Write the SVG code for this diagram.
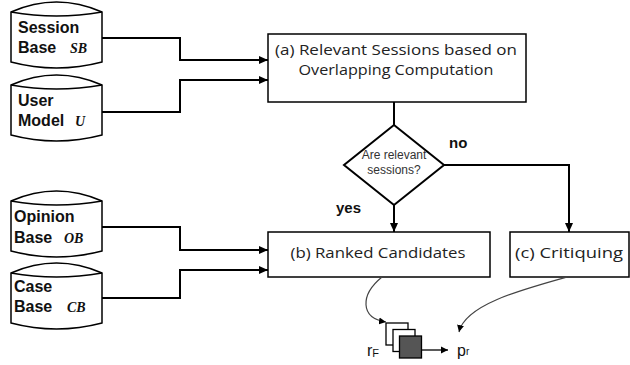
<svg xmlns="http://www.w3.org/2000/svg" width="630" height="365" viewBox="0 0 630 365">
  <style>
    .store path { fill: #fff; stroke: #000; stroke-width: 1.5; }
    .store .lbl { font-family: "Liberation Sans", Arial, sans-serif; font-weight: bold; font-size: 16px; fill: #111; }
    .store .sym { font-family: "Liberation Serif", serif; font-style: italic; font-weight: bold; font-size: 14px; fill: #111; }
    .box rect { fill: #fff; stroke: #000; stroke-width: 1.5; }
    .box text { font-family: "Open Sans", sans-serif; font-size: 15px; fill: #222; }
    .wire { fill: none; stroke: #000; stroke-width: 2; }
    .soft { fill: none; stroke: #444; stroke-width: 1.2; }
    .tag { font-family: "Liberation Sans", Arial, sans-serif; font-weight: bold; font-size: 15px; fill: #111; }
    .q { font-family: "Liberation Sans", Arial, sans-serif; font-size: 12px; fill: #333; }
    .sig { font-family: "Liberation Sans", Arial, sans-serif; fill: #111; }
  </style>
  <defs>
    <marker id="head" markerWidth="10" markerHeight="10" refX="9" refY="5" orient="auto" markerUnits="userSpaceOnUse">
      <path d="M0,1 L9,5 L0,9 Z" fill="#000"/>
    </marker>
    <marker id="thin" markerWidth="8" markerHeight="8" refX="7" refY="4" orient="auto" markerUnits="userSpaceOnUse">
      <path d="M0,0.5 L7,4 L0,7.5 Z" fill="#000"/>
    </marker>
  </defs>

  <!-- data stores (cylinders) -->
  <g id="session-base" class="store">
    <path d="M11,12 Q56.5,-8 102,12 L102,62 Q56.5,74 11,62 Z"/>
    <path d="M11,12 Q56.5,20 102,12"/>
    <text class="lbl" x="18" y="33">Session</text>
    <text class="lbl" x="18" y="53">Base</text>
    <text class="sym" x="70" y="53">SB</text>
  </g>
  <g id="user-model" class="store" transform="translate(0,73)">
    <path d="M11,12 Q56.5,-8 102,12 L102,62 Q56.5,74 11,62 Z"/>
    <path d="M11,12 Q56.5,20 102,12"/>
    <text class="lbl" x="18" y="33">User</text>
    <text class="lbl" x="18" y="53">Model</text>
    <text class="sym" x="75" y="53">U</text>
  </g>
  <g id="opinion-base" class="store" transform="translate(0,189)">
    <path d="M11,12 Q56.5,-8 102,12 L102,62 Q56.5,74 11,62 Z"/>
    <path d="M11,12 Q56.5,20 102,12"/>
    <text class="lbl" x="14" y="33">Opinion</text>
    <text class="lbl" x="14" y="54">Base</text>
    <text class="sym" x="64" y="54">OB</text>
  </g>
  <g id="case-base" class="store" transform="translate(0,261)">
    <path d="M11,12 Q56.5,-8 102,12 L102,62 Q56.5,74 11,62 Z"/>
    <path d="M11,12 Q56.5,20 102,12"/>
    <text class="lbl" x="14" y="31">Case</text>
    <text class="lbl" x="14" y="51">Base</text>
    <text class="sym" x="67" y="51">CB</text>
  </g>

  <!-- process boxes -->
  <g id="relevant-sessions" class="box">
    <rect x="268" y="34" width="258" height="68"/>
    <text x="396" y="55" text-anchor="middle" textLength="242" lengthAdjust="spacingAndGlyphs">(a) Relevant Sessions based on</text>
    <text x="396" y="75" text-anchor="middle" textLength="195" lengthAdjust="spacingAndGlyphs">Overlapping Computation</text>
  </g>
  <g id="decision">
    <path d="M394,125 L444,165 L394,205 L344,165 Z" fill="#fff" stroke="#000" stroke-width="2"/>
    <text class="q" x="394" y="159" text-anchor="middle">Are relevant</text>
    <text class="q" x="394" y="174" text-anchor="middle">sessions?</text>
  </g>
  <g id="ranked-candidates" class="box">
    <rect x="268" y="232" width="222" height="45"/>
    <text x="378" y="258" text-anchor="middle" textLength="175" lengthAdjust="spacingAndGlyphs">(b) Ranked Candidates</text>
  </g>
  <g id="critiquing" class="box">
    <rect x="510" y="232" width="119" height="45"/>
    <text x="515" y="258" textLength="108" lengthAdjust="spacingAndGlyphs">(c) Critiquing</text>
  </g>

  <!-- result stack -->
  <g id="result-stack">
    <rect x="386" y="323" width="22" height="22" fill="#fff" stroke="#000" stroke-width="1.3"/>
    <rect x="393" y="329.5" width="22" height="22" fill="#fff" stroke="#000" stroke-width="1.3"/>
    <rect x="399.5" y="336" width="22" height="22" fill="#555" stroke="#000" stroke-width="1.3"/>
    <text class="sig" x="367" y="356" font-size="16">r<tspan font-size="11" dy="1">F</tspan></text>
    <text class="sig" x="457" y="356" font-size="16">p<tspan font-size="10" dy="-1">r</tspan></text>
  </g>

  <!-- connectors -->
  <g id="connectors">
    <path class="wire" d="M102,38 H180 V60 H268" marker-end="url(#head)"/>
    <path class="wire" d="M102,112 H180 V80 H268" marker-end="url(#head)"/>
    <path class="wire" d="M102,227 H180 V250 H268" marker-end="url(#head)"/>
    <path class="wire" d="M102,298 H180 V270 H268" marker-end="url(#head)"/>
    <path class="wire" d="M394,102 V125"/>
    <path class="wire" d="M394,205 V232" marker-end="url(#head)"/>
    <path class="wire" d="M444,165 H569 V232" marker-end="url(#head)"/>
    <path class="soft" d="M382,277 C360,295 360,318 386,322" marker-end="url(#thin)"/>
    <path class="soft" d="M567,277 C520,290 465,305 459,332" marker-end="url(#thin)"/>
    <path d="M421.5,350 H448" stroke="#000" stroke-width="1.3" fill="none" marker-end="url(#thin)"/>
    <text class="tag" x="449" y="148">no</text>
    <text class="tag" x="336" y="213">yes</text>
  </g>
</svg>
